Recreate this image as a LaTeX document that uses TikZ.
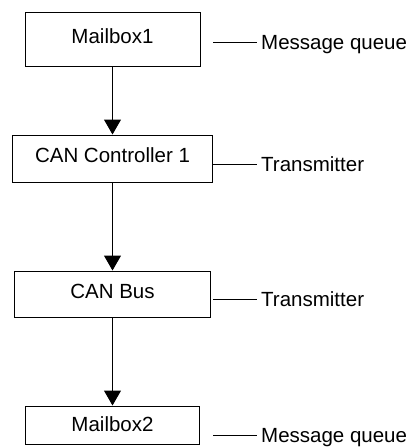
\documentclass[tikz,border=0pt]{standalone}
\usepackage{fontspec}
\setmainfont{Liberation Sans}
\usetikzlibrary{arrows.meta}
\begin{document}
\begin{tikzpicture}[x=1pt,y=-1pt,
  every node/.style={font=\fontsize{20.5}{24}\selectfont},
  stage/.style={draw,line width=1pt,inner sep=0pt,text height=15pt,text depth=7pt},
  note/.style={anchor=west,inner xsep=4pt,inner ysep=0pt,text height=15pt,text depth=0pt},
  flow/.style={line width=1pt,-{Triangle[length=15pt,width=17pt]}},
  tick/.style={line width=1pt}]
\useasboundingbox (0,0) rectangle (416,448);

% processing stages
\node[stage,minimum width=175pt,minimum height=54pt] (mb1) at (112.5,39) {Mailbox1};
\node[stage,minimum width=200pt,minimum height=47pt] (can1) at (112.5,158.5) {CAN Controller 1};
\node[stage,minimum width=196pt,minimum height=46pt] (bus) at (112.5,294) {CAN Bus};
\node[stage,minimum width=174pt,minimum height=38pt,text depth=3pt] (mb2) at (112.5,425) {Mailbox2};

% flow between stages
\draw[flow] (mb1) -- (can1);
\draw[flow] (can1) -- (bus);
\draw[flow] (bus) -- (mb2);

% role annotations
\node[note] (n1) at (257,42) {Message queue};
\node[note] (n2) at (257,164) {Transmitter};
\node[note] (n3) at (257,299) {Transmitter};
\node[note] (n4) at (257,435) {Message queue};
\coordinate (c1) at (213,42);
\coordinate (c2) at (213,164);
\coordinate (c3) at (213,299);
\coordinate (c4) at (213,435);
\draw[tick] (c1) -- (n1.west);
\draw[tick] (c2) -- (n2.west);
\draw[tick] (c3) -- (n3.west);
\draw[tick] (c4) -- (n4.west);
\end{tikzpicture}
\end{document}
